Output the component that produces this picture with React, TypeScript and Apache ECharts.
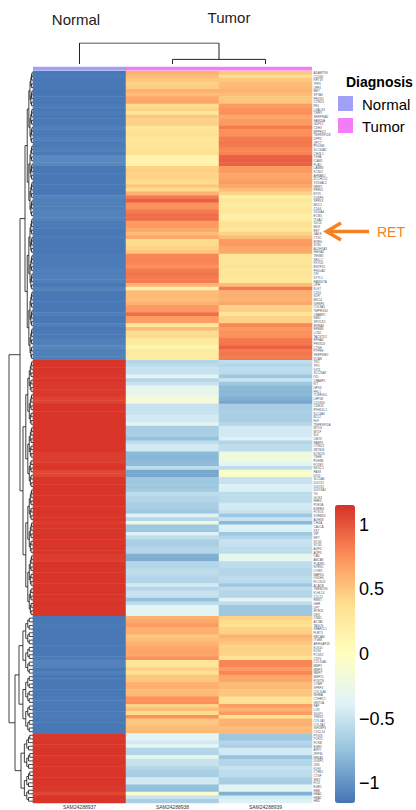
import React, { useEffect, useRef } from "react";
import * as echarts from "echarts";

const SAMPLES = ["SAM24288937", "SAM24288938", "SAM24288939"];
const DIAGNOSIS = ["Normal", "Tumor", "Tumor"];
const DIAG_COLORS: Record<string, string> = { Normal: "#A0A0F6", Tumor: "#F47CF5" };
const PALETTE = ["#4575B4", "#91BFDB", "#E0F3F8", "#FFFFBF", "#FEE090", "#FC8D59", "#D73027"];
const ZMAX = 1.155;
const SCALE_TICKS = [-1, -0.5, 0, 0.5, 1];

const GENES = (
  "ADAMTS9 CLDN1 KRT19 TFF3 LRP4 MET SFTA3 PROS1 CITED1 FN1 " +
  "LGALS3 TIMP1 SERPINA1 FAM20A GDF15 CDH3 MPPED2 TNFRSF11B DPP4 QPCT " +
  "PDLIM4 SLC34A2 CHI3L1 TGFA ICAM1 PLAU LAMB3 KCNJ2 AHNAK2 ZCCHC12 " +
  "ST6GAL2 NRIP1 PRR15 ETV5 DUSP6 SPRY4 MUC1 CD44 S100A4 ECM1 " +
  "ITGA2 SDC4 MDK RET GALE CTSC RXRG SCEL ALDH1A3 HMGA2 " +
  "TENM1 NELL2 FXYD6 ENTPD1 PHLDA2 CFI SYTL5 FAM167A LIPH KLK7 " +
  "CD55 SLPI MUC4 IGFBP6 COL8A1 TMPRSS4 CRABP2 NMU SPOCK1 MXRA8 " +
  "ERBB3 LCN2 TACSTD2 EPHA4 PRSS23 CTSH PTPRE SERPINE2 VCAN TNC " +
  "TPO DIO1 SLC26A7 IYD CRABP1 KIT GPX3 FHL1 TCERG1L LRP1B " +
  "CLDN10 CDH16 PKHD1L1 SLC4A4 BCL2 HLF TNFRSF11A MT1G MT1F ID4 " +
  "LMO3 FABP4 CITED2 ZBTB16 KCNJ16 TSHR PDE8B FOXE1 NKX2-1 PAX8 " +
  "DIO2 SLC5A5 DUOX1 DUOX2 DUOXA2 TG GLIS3 HHEX PDE5A ESRRG " +
  "FOXO1 SORBS2 ADH1B CHGA CALCA SST VIP NPY SCG2 SCG5 " +
  "AQP4 AQP3 CA4 ABCA8 PLA2R1 NTRK2 LYVE1 MAPK4 OGDHL PLCXD3 " +
  "ACACB TMEM139 KLHL14 CCL21 RMST GHR DPT MYH11 DES CNN1 " +
  "ACTA2 TAGLN SPARCL1 FLRT3 NRCAM ITGB8 ARHGAP18 KLK10 KLK6 PCSK2 " +
  "CST6 COL10A1 MMP1 MMP3 MMP7 MMP11 POSTN COMP SFRP4 COL11A1 " +
  "INHBA CTHRC1 WNT5A FAP LOX SULF1 THBS2 COL1A1 COL5A2 IGF2BP3 " +
  "CXCL14 PTGIS TCF21 FOSB EGR3 ATF3 ZFP36 NR4A1 DUSP1 JUN " +
  "KLF4 CYR61 CTGF IER2 FOS EGR1 HBB HBA2 HBA1 HBD"
).split(" ");

const NORMAL_37 = [
  -1.14, -1.12, -1.14, -1.14, -1.14, -1.15, -1.14, -1.14, -1.14, -1.13,
  -1.14, -1.12, -1.14, -1.14, -1.14, -1.10, -1.13, -1.13, -1.10, -1.12,
  -1.12, -1.10, -1.13, -1.05, -1.05, -1.06, -1.14, -1.14, -1.14, -1.14,
  -1.14, -1.14, -1.14, -1.14, -1.08, -1.10, -1.10, -1.10, -1.08, -1.08,
  -1.08, -1.12, -1.12, -1.14, -1.14, -1.12, -1.14, -1.14, -1.14, -1.14,
  -1.12, -1.12, -1.12, -1.12, -1.10, -1.10, -1.10, -1.10, -1.14, -1.08,
  -1.14, -1.14, -1.14, -1.14, -1.14, -1.14, -1.10, -1.14, -1.14, -1.10,
  -1.14, -1.13, -1.13, -1.10, -1.10, -1.06, -1.10, -1.10, -1.10, 1.14,
  1.14, 1.14, 1.14, 1.12, 1.14, 1.12, 1.12, 1.12, 1.12, 1.08,
  1.08, 1.14, 1.14, 1.14, 1.14, 1.14, 1.14, 1.14, 1.14, 1.14,
  1.14, 1.14, 1.14, 1.14, 1.10, 1.10, 1.10, 1.12, 1.14, 1.06,
  1.06, 1.14, 1.14, 1.14, 1.14, 1.14, 1.14, 1.14, 1.14, 1.14,
  1.14, 1.13, 1.14, 1.10, 1.13, 1.13, 1.13, 1.14, 1.14, 1.14,
  1.14, 1.14, 1.10, 1.10, 1.14, 1.14, 1.14, 1.14, 1.14, 1.14,
  1.14, 1.14, 1.14, 1.14, 1.12, 1.14, 1.13, 1.13, 1.13, -1.14,
  -1.14, -1.12, -1.14, -1.14, -1.14, -1.14, -1.14, -1.14, -1.14, -1.14,
  -1.12, -1.08, -1.08, -1.14, -1.10, -1.14, -1.14, -1.14, -1.14, -1.14,
  -1.14, -1.12, -1.12, -1.13, -1.14, -1.13, -1.12, -1.14, -1.14, -1.14,
  -1.14, 1.12, 1.12, 1.14, 1.12, 1.14, 1.14, 1.12, 1.14, 1.14,
  1.14, 1.14, 1.14, 1.14, 1.14, 1.12, 1.12, 1.06, 1.14, 1.14,
];

const TUMOR_38 = [
  0.60, 0.55, 0.50, 0.45, 0.47, 0.60, 0.55, 0.65, 0.66, 0.40,
  0.45, 0.30, 0.50, 0.45, 0.46, 0.30, 0.35, 0.36, 0.30, 0.31,
  0.30, 0.35, 0.36, 0.15, 0.14, 0.16, 0.45, 0.46, 0.45, 0.44,
  0.40, 0.50, 0.40, 0.60, 0.85, 0.95, 0.75, 0.76, 0.85, 0.90,
  0.91, 0.70, 0.71, 0.65, 0.55, 0.65, 0.40, 0.41, 0.45, 0.50,
  0.80, 0.81, 0.80, 0.75, 0.85, 0.86, 0.85, 0.84, 0.60, 0.20,
  0.55, 0.56, 0.55, 0.60, 0.70, 0.71, 0.90, 0.70, 0.69, 0.30,
  0.55, 0.40, 0.41, 0.25, 0.26, 0.12, 0.25, 0.24, 0.25, -0.60,
  -0.55, -0.50, -0.51, -0.35, -0.60, -0.50, -0.30, -0.31, -0.30, -0.15,
  -0.16, -0.50, -0.51, -0.50, -0.45, -0.46, -0.35, -0.65, -0.66, -0.65,
  -0.75, -0.55, -0.45, -0.46, -0.80, -0.81, -0.80, -0.79, -0.55, -0.90,
  -0.90, -0.70, -0.71, -0.70, -0.69, -0.55, -0.60, -0.61, -0.65, -0.66,
  -0.70, -0.40, -0.60, -0.20, -0.70, -0.71, -0.40, -0.55, -0.65, -0.66,
  -0.60, -0.61, -0.85, -0.86, -0.60, -0.61, -0.55, -0.56, -0.60, -0.61,
  -0.45, -0.60, -0.50, -0.51, -0.75, -0.55, -0.35, -0.36, -0.35, 0.60,
  0.65, 0.70, 0.60, 0.61, 0.50, 0.55, 0.60, 0.65, 0.66, 0.65,
  0.75, 0.30, 0.31, 0.45, 0.35, 0.50, 0.51, 0.60, 0.61, 0.55,
  0.56, 0.75, 0.76, 0.45, 0.55, 0.40, 0.75, 0.50, 0.51, 0.55,
  0.56, -0.35, -0.36, -0.45, -0.35, -0.60, -0.61, -0.30, -0.50, -0.51,
  -0.60, -0.65, -0.66, -0.45, -0.46, -0.75, -0.76, -0.10, -0.50, -0.65,
];

const TUMOR_39 = [
  0.50, 0.40, 0.50, 0.55, 0.56, 0.60, 0.55, 0.50, 0.51, 0.70,
  0.75, 0.76, 0.65, 0.70, 0.71, 0.85, 0.75, 0.76, 0.85, 0.86,
  0.85, 0.80, 0.81, 0.95, 0.96, 0.95, 0.70, 0.71, 0.65, 0.66,
  0.70, 0.65, 0.55, 0.45, 0.20, 0.30, 0.25, 0.26, 0.30, 0.20,
  0.21, 0.35, 0.36, 0.30, 0.45, 0.55, 0.70, 0.71, 0.65, 0.65,
  0.30, 0.31, 0.30, 0.35, 0.30, 0.31, 0.30, 0.29, 0.55, 0.85,
  0.60, 0.61, 0.60, 0.65, 0.45, 0.46, 0.30, 0.45, 0.46, 0.80,
  0.70, 0.75, 0.76, 0.85, 0.86, 0.95, 0.85, 0.86, 0.85, -0.55,
  -0.60, -0.55, -0.56, -0.70, -0.50, -0.70, -0.80, -0.81, -0.80, -0.85,
  -0.90, -0.65, -0.66, -0.65, -0.65, -0.66, -0.60, -0.45, -0.46, -0.45,
  -0.40, -0.60, -0.55, -0.56, -0.20, -0.21, -0.20, -0.35, -0.55, -0.08,
  -0.08, -0.50, -0.51, -0.40, -0.41, -0.55, -0.55, -0.56, -0.45, -0.46,
  -0.50, -0.70, -0.50, -0.80, -0.40, -0.41, -0.70, -0.60, -0.50, -0.51,
  -0.55, -0.56, -0.30, -0.31, -0.55, -0.56, -0.60, -0.61, -0.55, -0.56,
  -0.70, -0.55, -0.60, -0.61, -0.35, -0.55, -0.70, -0.71, -0.70, 0.45,
  0.40, 0.35, 0.45, 0.46, 0.60, 0.55, 0.50, 0.45, 0.46, 0.45,
  0.35, 0.80, 0.81, 0.70, 0.80, 0.65, 0.66, 0.55, 0.56, 0.50,
  0.51, 0.35, 0.36, 0.70, 0.60, 0.70, 0.35, 0.60, 0.61, 0.55,
  0.56, -0.70, -0.71, -0.60, -0.65, -0.45, -0.46, -0.75, -0.60, -0.61,
  -0.50, -0.55, -0.56, -0.65, -0.66, -0.35, -0.36, -0.85, -0.45, -0.40,
];

// Row dendrogram: top-level clusters (row ranges) with merge heights (px-like units)
const ROW_TREE = {
  h: 24,
  children: [
    { h: 13, children: [{ h: 8, rows: [0, 78] }, { h: 10, rows: [79, 148] }] },
    { h: 18, children: [{ h: 14, rows: [149, 180] }, { h: 12, rows: [181, 199] }] },
  ],
};
// Column dendrogram merge heights
const COL_MERGE_TUMOR = 0.22;
const COL_MERGE_ROOT = 1;

type Pt = { y: number; h: number };

function buildRowDendro(): number[][][] {
  const segs: number[][][] = [];
  const range = (lo: number, hi: number, h: number): Pt => {
    if (lo === hi) return { y: lo + 0.5, h: 0 };
    const mid = Math.floor((lo + hi) / 2);
    const ch = h * 0.72;
    const a = range(lo, mid, ch);
    const b = range(mid + 1, hi, ch);
    segs.push([[a.h, a.y], [h, a.y], [h, b.y], [b.h, b.y]]);
    return { y: (a.y + b.y) / 2, h };
  };
  const node = (n: any): Pt => {
    if (n.rows) return range(n.rows[0], n.rows[1], n.h);
    const a = node(n.children[0]);
    const b = node(n.children[1]);
    segs.push([[a.h, a.y], [n.h, a.y], [n.h, b.y], [b.h, b.y]]);
    return { y: (a.y + b.y) / 2, h: n.h };
  };
  node(ROW_TREE);
  return segs;
}

export default function App() {
  const ref = useRef<HTMLDivElement>(null);
  useEffect(() => {
    document.body.style.margin = "0";
    const chart = echarts.init(ref.current!, null, { renderer: "svg" });
    const cols = [NORMAL_37, TUMOR_38, TUMOR_39];
    const heat: number[][] = [];
    for (let r = 0; r < GENES.length; r++) {
      for (let c = 0; c < 3; c++) heat.push([c, r, cols[c][r]]);
    }
    const rowSegs = buildRowDendro();
    const tumorMid = 2;
    const colSegs = [
      [[1.5, 0], [1.5, COL_MERGE_TUMOR], [2.5, COL_MERGE_TUMOR], [2.5, 0]],
      [[0.5, 0], [0.5, COL_MERGE_ROOT], [tumorMid, COL_MERGE_ROOT], [tumorMid, COL_MERGE_TUMOR]],
    ];
    const orange = "#F58220";
    const font = "Liberation Sans";
    const hidden = { show: false };
    const option: any = {
      animation: false,
      backgroundColor: "#ffffff",
      grid: [
        { left: 33, top: 71, width: 279, height: 732, outerBoundsMode: "none" },
        { left: 0, top: 71, width: 33, height: 732, outerBoundsMode: "none" },
        { left: 33, top: 43, width: 279, height: 21, outerBoundsMode: "none" },
        { left: 33, top: 66.8, width: 279, height: 3.8, outerBoundsMode: "none" },
        { left: 335, top: 505, width: 20, height: 298, outerBoundsMode: "none" },
      ],
      xAxis: [
        {
          type: "category", gridIndex: 0, data: SAMPLES, position: "bottom",
          axisLine: hidden, axisTick: hidden, splitLine: hidden,
          axisLabel: { fontSize: 5, color: "#333", margin: 1.5, fontFamily: font, interval: 0 },
        },
        { type: "value", gridIndex: 1, min: 0, max: 33, inverse: true, show: false },
        { type: "value", gridIndex: 2, min: 0, max: 3, show: false },
        { type: "category", gridIndex: 3, data: SAMPLES, show: false },
        { type: "value", gridIndex: 4, min: 0, max: 1, show: false },
      ],
      yAxis: [
        {
          type: "category", gridIndex: 0, data: GENES, inverse: true, position: "right",
          axisLine: hidden, axisTick: hidden, splitLine: hidden,
          axisLabel: { fontSize: 3, color: "#555", margin: 1.5, fontFamily: font, interval: 0 },
        },
        { type: "value", gridIndex: 1, min: 0, max: GENES.length, inverse: true, show: false },
        { type: "value", gridIndex: 2, min: 0, max: 1, show: false },
        { type: "value", gridIndex: 3, min: 0, max: 1, show: false },
        {
          type: "value", gridIndex: 4, min: -ZMAX, max: ZMAX, position: "right",
          axisLine: hidden, axisTick: hidden, splitLine: hidden,
          axisLabel: {
            customValues: SCALE_TICKS, fontSize: 18, color: "#000", margin: 4, fontFamily: font,
            formatter: (v: number) => (v < 0 ? "\u2212" + Math.abs(v) : String(v)),
          },
        },
      ],
      visualMap: [
        {
          type: "continuous", seriesIndex: 0, min: -ZMAX, max: ZMAX, orient: "vertical",
          left: 335, top: 505, itemWidth: 20, itemHeight: 298, padding: 0,
          calculable: false, inRange: { color: PALETTE }, hoverLink: false,
        },
      ],
      series: [
        {
          type: "heatmap", xAxisIndex: 0, yAxisIndex: 0, data: heat, silent: true,
          itemStyle: { borderWidth: 0 }, emphasis: { disabled: true },
        },
        {
          type: "lines", coordinateSystem: "cartesian2d", xAxisIndex: 1, yAxisIndex: 1,
          polyline: true, silent: true,
          lineStyle: { color: "#111", width: 0.8, opacity: 1 },
          data: rowSegs.map((c) => ({ coords: c })),
        },
        {
          type: "lines", coordinateSystem: "cartesian2d", xAxisIndex: 2, yAxisIndex: 2,
          polyline: true, silent: true,
          lineStyle: { color: "#222", width: 1, opacity: 1 },
          data: colSegs.map((c) => ({ coords: c })),
        },
        {
          type: "bar", xAxisIndex: 3, yAxisIndex: 3, silent: true,
          barCategoryGap: "0%", barWidth: "100%",
          data: DIAGNOSIS.map((d) => ({ value: 1, itemStyle: { color: DIAG_COLORS[d] } })),
        },
        { type: "scatter", xAxisIndex: 4, yAxisIndex: 4, data: [], silent: true },
      ],
      graphic: [
        { type: "text", x: 76, y: 19, style: { text: "Normal", fontSize: 15, fontFamily: font, fill: "#222", align: "center", verticalAlign: "middle" } },
        { type: "text", x: 229, y: 17, style: { text: "Tumor", fontSize: 15, fontFamily: font, fill: "#222", align: "center", verticalAlign: "middle" } },
        { type: "text", x: 346, y: 82, style: { text: "Diagnosis", fontSize: 14, fontWeight: "bold", fontFamily: font, fill: "#000", verticalAlign: "middle" } },
        { type: "rect", shape: { x: 338, y: 96, width: 15, height: 15 }, style: { fill: DIAG_COLORS.Normal } },
        { type: "rect", shape: { x: 338, y: 118, width: 15, height: 15 }, style: { fill: DIAG_COLORS.Tumor } },
        { type: "text", x: 362, y: 104, style: { text: "Normal", fontSize: 15, fontFamily: font, fill: "#000", verticalAlign: "middle" } },
        { type: "text", x: 362, y: 126, style: { text: "Tumor", fontSize: 15, fontFamily: font, fill: "#000", verticalAlign: "middle" } },
        { type: "polyline", shape: { points: [[341, 223], [326.5, 231.5], [341, 240]] }, style: { stroke: orange, lineWidth: 3.5, fill: null } },
        { type: "line", shape: { x1: 328, y1: 231.5, x2: 369, y2: 231.5 }, style: { stroke: orange, lineWidth: 3.5 } },
        { type: "text", x: 377, y: 231.5, style: { text: "RET", fontSize: 14, fontFamily: font, fill: orange, verticalAlign: "middle" } },
      ],
    };
    chart.setOption(option);
    return () => chart.dispose();
  }, []);
  return <div ref={ref} style={{ position: "absolute", left: 0, top: 0, width: 416, height: 810 }} />;
}
